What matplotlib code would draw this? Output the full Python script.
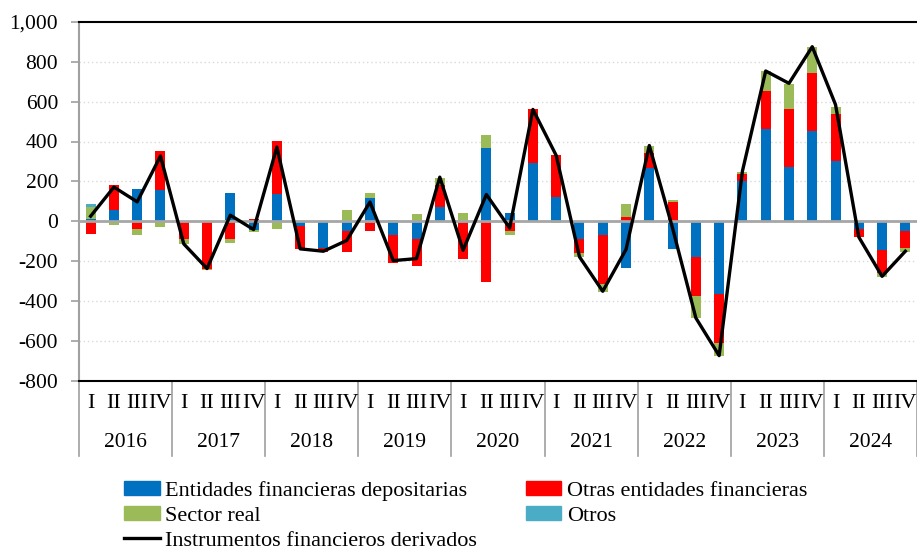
import numpy as np
import matplotlib.pyplot as plt
from matplotlib.patches import Patch
from matplotlib.lines import Line2D
import matplotlib.transforms as mtransforms

plt.rcParams['font.family'] = ['Liberation Serif', 'DejaVu Serif']

# Datos trimestrales 2016-2024 (I-IV)
anios = ['2016', '2017', '2018', '2019', '2020', '2021', '2022', '2023', '2024']
trimestres = ['I', 'II', 'III', 'IV']

depositarias = [13, 55, 162, 156,
                0, 0, 139, -42,
                134, -25, -136, -50,
                114, -70, -89, 72,
                -10, 365, 40, 293,
                121, -89, -67, -235,
                265, -139, -181, -365,
                204, 464, 273, 452,
                302, -39, -147, -47]
otras_fin = [-64, 129, -39, 194,
             -89, -238, -92, 12,
             271, -117, -20, -106,
             -50, -139, -137, 109,
             -179, -307, -50, 268,
             209, -70, -246, 23,
             75, 94, -196, -246,
             32, 189, 292, 293,
             235, -40, -112, -87]
sector_real = [58, -17, -28, -27,
               -28, -7, -18, -13,
               -37, 0, 0, 57,
               25, 7, 34, 34,
               40, 67, -18, 0,
               -10, -23, -44, 64,
               35, 10, -109, -64,
               12, 101, 122, 131,
               37, 0, -22, -20]
otros = [17, 0, 0, 0] + [0] * 32
derivados = [25, 171, 97, 327,
             -114, -238, 30, -42,
             372, -139, -151, -97,
             96, -198, -188, 221,
             -146, 134, -34, 561,
             330, -179, -352, -142,
             380, -35, -486, -675,
             251, 754, 692, 876,
             585, -80, -277, -151]

series = [('Entidades financieras depositarias', depositarias, '#0070C0'),
          ('Otras entidades financieras', otras_fin, '#FF0000'),
          ('Sector real', sector_real, '#9BBB59'),
          ('Otros', otros, '#4BACC6')]

fig = plt.figure(figsize=(9.17, 5.52), dpi=100)
ax = fig.add_axes([79 / 917, 1 - 380.5 / 552, 1 - 79 / 917, (380.5 - 22) / 552])

x = np.arange(len(derivados))
pos_base = np.zeros(len(x))
neg_base = np.zeros(len(x))
for nombre, vals, color in series:
    v = np.array(vals, dtype=float)
    base = np.where(v >= 0, pos_base, neg_base)
    ax.bar(x, v, bottom=base, width=0.43, color=color, zorder=3)
    pos_base += np.where(v > 0, v, 0)
    neg_base += np.where(v < 0, v, 0)

ax.plot(x, derivados, color='black', lw=2.4, zorder=5)

ax.set_xlim(-0.5, len(x) - 0.5)
ax.set_ylim(-800, 1000)
yt = np.arange(-800, 1001, 200)
ax.set_yticks(yt)
ax.set_yticklabels(['{:,}'.format(v) for v in yt], fontsize=15.5, family='Liberation Serif')
ax.tick_params(axis='y', direction='out', length=6, width=1.2, color='#a0a0a0', pad=9)
ax.set_xticks([])
for v in yt[1:-1]:
    if v == 0:
        ax.axhline(0, color='#a6a6a6', lw=2, zorder=4)
    else:
        ax.axhline(v, color='#d9d9d9', lw=1, ls=(0, (1, 2)), zorder=1)

ax.spines['left'].set_color('#a0a0a0')
ax.spines['left'].set_linewidth(1.5)
ax.spines['top'].set_color('black')
ax.spines['top'].set_linewidth(1.5)
ax.spines['bottom'].set_color('black')
ax.spines['bottom'].set_linewidth(1.5)
ax.spines['right'].set_visible(False)

# eje de categorias en dos niveles
trans = mtransforms.blended_transform_factory(ax.transData, ax.transAxes)
for i in range(len(x)):
    ax.text(x[i], -0.063, trimestres[i % 4], transform=trans, ha='center', va='center', fontsize=16)
for j, a in enumerate(anios):
    ax.text(4 * j + 1.5, -0.174, a, transform=trans, ha='center', va='center', fontsize=15.5)
    ax.plot([4 * j - 0.5, 4 * j - 0.5], [0, -0.21], transform=trans, color='#a0a0a0', lw=1.2, clip_on=False)
ax.plot([len(x) - 0.5, len(x) - 0.5], [0, -0.21], transform=trans, color='#a0a0a0', lw=1.2, clip_on=False)

handles = [Patch(color=series[0][2]), Patch(color=series[2][2]), Line2D([], [], color='black', lw=2.4),
           Patch(color=series[1][2]), Patch(color=series[3][2])]
labels = [series[0][0], series[2][0], 'Instrumentos financieros derivados', series[1][0], series[3][0]]
fig.legend(handles, labels, ncol=2, loc='upper left', bbox_to_anchor=(124 / 917, 1 - 481 / 552),
           frameon=False, fontsize=16, handlelength=1.6, handleheight=0.55, handletextpad=0.25,
           columnspacing=2.2, labelspacing=0.24, borderpad=0, borderaxespad=0)

fig.savefig('out.png', dpi=100)
